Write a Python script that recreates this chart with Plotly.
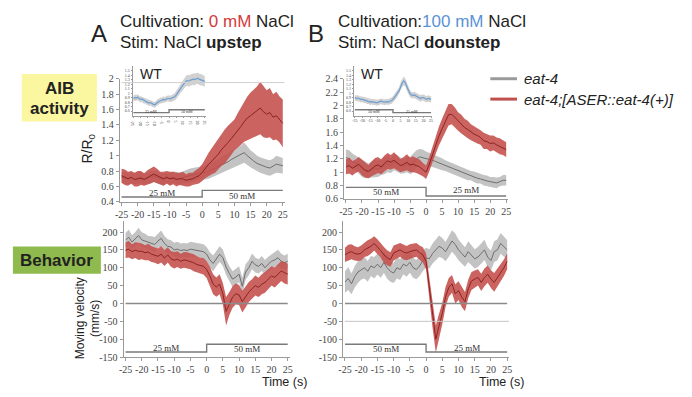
import plotly.graph_objects as go

# ---------------- data ----------------
t = list(range(-25, 26))

# Panel A top (AIB activity, R/R0), cultivation 0 mM, upstep
a_top_red = [0.74, 0.72, 0.70, 0.72, 0.69, 0.70, 0.71, 0.69, 0.72, 0.74, 0.76, 0.74, 0.71, 0.70, 0.72,
             0.70, 0.71, 0.69, 0.70, 0.70, 0.68, 0.69, 0.70, 0.72, 0.74,
             0.78, 0.84, 0.89, 0.93, 0.97, 1.02, 1.08, 1.12, 1.17, 1.22, 1.27, 1.33, 1.38, 1.44, 1.49,
             1.52, 1.55, 1.58, 1.62, 1.57, 1.54, 1.56, 1.50, 1.52, 1.47, 1.42]
a_top_red_err = [0.09, 0.10, 0.09, 0.08, 0.09, 0.10, 0.09, 0.08, 0.09, 0.10, 0.10, 0.09, 0.08, 0.09, 0.08,
                 0.09, 0.08, 0.09, 0.08, 0.09, 0.08, 0.09, 0.08, 0.09, 0.10,
                 0.11, 0.13, 0.15, 0.17, 0.19, 0.20, 0.21, 0.22, 0.22, 0.21, 0.20, 0.22, 0.24, 0.26, 0.28,
                 0.30, 0.31, 0.32, 0.34, 0.33, 0.31, 0.32, 0.30, 0.31, 0.30, 0.31]
a_top_grey = [0.72, 0.71, 0.70, 0.71, 0.70, 0.71, 0.72, 0.70, 0.71, 0.72, 0.73, 0.72, 0.70, 0.69, 0.71,
              0.70, 0.72, 0.71, 0.70, 0.72, 0.73, 0.74, 0.75, 0.76, 0.77,
              0.78, 0.78, 0.80, 0.82, 0.84, 0.85, 0.88, 0.90, 0.92, 0.95, 0.97, 0.99, 1.01, 1.04, 1.00,
              0.96, 0.93, 0.90, 0.88, 0.86, 0.85, 0.84, 0.86, 0.89, 0.88, 0.87]
a_top_grey_err = [0.07, 0.08, 0.07, 0.08, 0.07, 0.08, 0.07, 0.08, 0.07, 0.08, 0.07, 0.08, 0.07, 0.08, 0.07,
                  0.08, 0.07, 0.08, 0.08, 0.08, 0.09, 0.09, 0.09, 0.09, 0.09,
                  0.09, 0.09, 0.10, 0.10, 0.10, 0.10, 0.11, 0.11, 0.11, 0.12, 0.12, 0.12, 0.12, 0.13, 0.12,
                  0.11, 0.11, 0.10, 0.10, 0.10, 0.10, 0.10, 0.10, 0.11, 0.10, 0.10]

# Panel B top (AIB activity, R/R0), cultivation 100 mM, downstep
b_top_red = [1.08, 1.10, 1.06, 1.09, 1.12, 1.07, 1.03, 1.01, 1.05, 1.09, 1.11, 1.08, 1.13, 1.17, 1.15,
             1.18, 1.14, 1.10, 1.12, 1.15, 1.11, 1.12, 1.10, 1.08, 1.04,
             1.00, 1.12, 1.27, 1.41, 1.54, 1.65, 1.76, 1.86, 1.87, 1.82, 1.76, 1.72, 1.67, 1.64, 1.60,
             1.57, 1.55, 1.52, 1.47, 1.46, 1.43, 1.44, 1.41, 1.39, 1.37, 1.34]
b_top_red_err = [0.11, 0.12, 0.11, 0.10, 0.11, 0.12, 0.11, 0.10, 0.11, 0.12, 0.12, 0.11, 0.12, 0.12, 0.11,
                 0.12, 0.11, 0.10, 0.11, 0.12, 0.11, 0.12, 0.11, 0.11, 0.10,
                 0.10, 0.11, 0.12, 0.13, 0.14, 0.15, 0.15, 0.16, 0.15, 0.15, 0.14, 0.14, 0.13, 0.13, 0.12,
                 0.12, 0.12, 0.11, 0.12, 0.11, 0.12, 0.11, 0.11, 0.12, 0.11, 0.11]
b_top_grey = [1.22, 1.20, 1.16, 1.14, 1.10, 1.06, 1.03, 1.02, 1.04, 1.06, 1.05, 1.08, 1.10, 1.12, 1.10,
              1.15, 1.13, 1.10, 1.09, 1.12, 1.10, 1.14, 1.20, 1.23, 1.22,
              1.20, 1.19, 1.18, 1.16, 1.14, 1.12, 1.10, 1.08, 1.06, 1.04, 1.02, 1.00, 0.98, 0.96, 0.95,
              0.93, 0.91, 0.90, 0.88, 0.87, 0.86, 0.85, 0.84, 0.86, 0.88, 0.88]
b_top_grey_err = [0.12, 0.13, 0.12, 0.11, 0.12, 0.13, 0.12, 0.11, 0.12, 0.13, 0.12, 0.12, 0.13, 0.12, 0.11,
                  0.12, 0.13, 0.12, 0.11, 0.12, 0.13, 0.14, 0.13, 0.12, 0.12,
                  0.11, 0.10, 0.10, 0.09, 0.09, 0.09, 0.08, 0.08, 0.08, 0.08, 0.08, 0.07, 0.08, 0.08, 0.07,
                  0.08, 0.08, 0.07, 0.08, 0.08, 0.07, 0.08, 0.08, 0.07, 0.08, 0.08]

# Panel A bottom (moving velocity, mm/s)
a_bot_red = [149, 152, 145, 149, 146, 146, 142, 144, 138, 135, 132, 138, 127, 136, 125,
             121, 124, 118, 122, 120, 118, 114, 109, 106, 104,
             95, 77, 54, 46, 54, 27, -22, 0, 18, 27, 24, 5, 18, 32, 41,
             50, 45, 54, 59, 68, 77, 73, 82, 91, 86, 82]
a_bot_red_err = [22, 23, 21, 22, 24, 22, 21, 23, 22, 21, 22, 23, 22, 21, 22,
                 23, 22, 21, 22, 23, 22, 24, 23, 22, 23,
                 24, 26, 28, 27, 28, 30, 40, 32, 30, 29, 28, 30, 29, 28, 27,
                 28, 27, 28, 29, 28, 27, 28, 29, 28, 30, 29]
a_bot_grey = [178, 185, 172, 180, 190, 178, 175, 170, 168, 165, 175, 182, 168, 160, 158,
              150, 152, 148, 150, 148, 152, 150, 150, 148, 145,
              138, 122, 112, 125, 138, 128, 102, 84, 68, 74, 82, 48, 88, 100, 118,
              108, 104, 112, 100, 110, 118, 122, 128, 118, 114, 118]
a_bot_grey_err = [20, 21, 19, 20, 22, 21, 20, 19, 20, 21, 20, 22, 21, 20, 19,
                  20, 21, 20, 19, 20, 21, 20, 19, 20, 21,
                  20, 21, 22, 21, 22, 23, 22, 21, 22, 23, 22, 24, 22, 21, 22,
                  21, 20, 21, 22, 21, 20, 21, 22, 21, 20, 21]

# Panel B bottom (moving velocity, mm/s)
b_bot_red = [136, 142, 145, 140, 138, 141, 150, 155, 160, 168, 159, 148, 136, 128, 123,
             141, 146, 150, 144, 141, 145, 148, 150, 142, 136,
             118, 45, -36, -100, -63, -28, 18, 45, 55, 27, 36, 18, 5, 41, 63,
             68, 73, 59, 73, 82, 68, 59, 73, 86, 100, 118]
b_bot_red_err = [20, 22, 21, 20, 19, 21, 20, 22, 21, 20, 21, 20, 22, 21, 20,
                 21, 20, 19, 21, 20, 21, 20, 19, 20, 21,
                 22, 28, 32, 38, 34, 30, 28, 26, 25, 27, 26, 28, 27, 26, 25,
                 24, 23, 24, 25, 24, 25, 26, 25, 24, 23, 22]
b_bot_grey = [60, 70, 55, 75, 88, 95, 100, 90, 105, 100, 110, 100, 115, 100, 90,
              85, 100, 95, 110, 105, 115, 100, 95, 105, 120,
              128, 125, 140, 150, 160, 155, 145, 160, 175, 165, 150, 140, 130, 145, 135,
              125, 130, 140, 150, 130, 120, 145, 150, 168, 160, 150]
b_bot_grey_err = [30, 32, 29, 30, 31, 28, 30, 29, 28, 30, 29, 28, 30, 31, 29,
                  28, 30, 29, 28, 30, 29, 28, 27, 28, 29,
                  28, 27, 28, 29, 30, 28, 27, 29, 30, 31, 29, 28, 27, 29, 28,
                  27, 28, 29, 28, 27, 28, 29, 30, 29, 28, 27]

# Insets (WT)
wt_a = [0.88, 0.90, 0.89, 0.91, 0.88, 0.86, 0.87, 0.84, 0.83, 0.81, 0.80, 0.78, 0.79, 0.76, 0.75,
        0.74, 0.77, 0.80, 0.82, 0.83, 0.84, 0.86, 0.85, 0.87, 0.88,
        0.88, 0.87, 0.89, 0.90, 0.92, 0.96, 1.00, 1.05, 1.10, 1.15, 1.20, 1.24, 1.27, 1.28, 1.27,
        1.29, 1.30, 1.31, 1.30, 1.32, 1.33, 1.31, 1.30, 1.29, 1.28, 1.26]
wt_a_err = [0.06, 0.07, 0.06, 0.07, 0.06, 0.07, 0.06, 0.07, 0.06, 0.07, 0.06, 0.07, 0.06, 0.07, 0.06,
            0.07, 0.06, 0.07, 0.06, 0.07, 0.06, 0.07, 0.06, 0.07, 0.06,
            0.07, 0.07, 0.08, 0.08, 0.08, 0.09, 0.09, 0.10, 0.10, 0.11, 0.11, 0.12, 0.12, 0.12, 0.13,
            0.12, 0.13, 0.12, 0.13, 0.12, 0.13, 0.12, 0.13, 0.12, 0.12, 0.12]
wt_b = [0.90, 0.88, 0.89, 0.87, 0.86, 0.86, 0.85, 0.84, 0.83, 0.82, 0.80, 0.81, 0.80, 0.80, 0.79,
        0.79, 0.80, 0.82, 0.81, 0.80, 0.80, 0.81, 0.80, 0.82, 0.83,
        0.86, 0.90, 0.95, 1.00, 1.05, 1.15, 1.22, 1.27, 1.24, 1.15, 1.06, 1.00, 0.96, 0.95, 0.96,
        0.94, 0.92, 0.90, 0.88, 0.90, 0.90, 0.88, 0.86, 0.88, 0.87, 0.86]
wt_b_err = [0.07, 0.06, 0.07, 0.06, 0.07, 0.06, 0.07, 0.06, 0.07, 0.06, 0.07, 0.06, 0.07, 0.06, 0.07,
            0.06, 0.07, 0.06, 0.07, 0.06, 0.07, 0.06, 0.07, 0.06, 0.07,
            0.07, 0.07, 0.08, 0.08, 0.08, 0.09, 0.09, 0.10, 0.09, 0.09, 0.08, 0.08, 0.07, 0.07, 0.07,
            0.07, 0.07, 0.07, 0.07, 0.07, 0.07, 0.07, 0.07, 0.07, 0.07, 0.07]

x_ticks = [-25, -20, -15, -10, -5, 0, 5, 10, 15, 20, 25]
x_ticktext = ["-25", "-20", "-15", "-10", "-5", "0", "5", "10", "15", "20", "25"]
a_top_yticks = [0.4, 0.6, 0.8, 1.0, 1.2, 1.4, 1.6, 1.8, 2.0]
a_top_yticktext = ["0.4", "0.6", "0.8", "1", "1.2", "1.4", "1.6", "1.8", "2"]
b_top_yticks = [0.6, 0.8, 1.0, 1.2, 1.4, 1.6, 1.8, 2.0, 2.2, 2.4]
b_top_yticktext = ["0.6", "0.8", "1", "1.2", "1.4", "1.6", "1.8", "2", "2.2", "2.4"]
bot_yticks = [-150, -100, -50, 0, 50, 100, 150, 200]
bot_yticktext = ["-150", "-100", "-50", "0", "50", "100", "150", "200"]
inset_yticks = [0.6, 0.7, 0.8, 0.9, 1.0, 1.1, 1.2, 1.3, 1.4, 1.5]
inset_yticktext = ["0.6", "0.7", "0.8", "0.9", "1", "1.1", "1.2", "1.3", "1.4", "1.5"]

# ---------------- styling helpers ----------------
W, H = 692, 397
def px(x): return x / W
def py(y): return 1 - y / H

RED_FILL = "rgba(196,78,74,0.88)"
RED_LINE = "#8a2424"
GREY_FILL = "rgba(178,178,178,0.78)"
GREY_LINE = "#6e6e6e"
BLUE_LINE = "#6d9fd2"
SERIF = "Liberation Serif, DejaVu Serif, serif"
SANS = "Liberation Sans, Arial, sans-serif"

fig = go.Figure()

def band(xa, ya, mean, err, fill, line, lw=1.0):
    up = [m + e for m, e in zip(mean, err)]
    lo = [m - e for m, e in zip(mean, err)]
    fig.add_trace(go.Scatter(x=t + t[::-1], y=up + lo[::-1], fill="toself", fillcolor=fill,
                             line=dict(width=0), mode="lines", hoverinfo="skip", showlegend=False,
                             xaxis=xa, yaxis=ya))
    fig.add_trace(go.Scatter(x=t, y=mean, mode="lines", line=dict(color=line, width=lw),
                             hoverinfo="skip", showlegend=False, xaxis=xa, yaxis=ya))

band("x", "y", a_top_grey, a_top_grey_err, GREY_FILL, GREY_LINE)
band("x", "y", a_top_red, a_top_red_err, RED_FILL, RED_LINE)
band("x2", "y2", b_top_grey, b_top_grey_err, GREY_FILL, GREY_LINE)
band("x2", "y2", b_top_red, b_top_red_err, RED_FILL, RED_LINE)
band("x3", "y3", a_bot_grey, a_bot_grey_err, GREY_FILL, GREY_LINE)
band("x3", "y3", a_bot_red, a_bot_red_err, RED_FILL, RED_LINE)
band("x4", "y4", b_bot_grey, b_bot_grey_err, GREY_FILL, GREY_LINE)
band("x4", "y4", b_bot_red, b_bot_red_err, RED_FILL, RED_LINE)
band("x5", "y5", wt_a, wt_a_err, "rgba(190,190,190,0.7)", BLUE_LINE, 1.2)
band("x6", "y6", wt_b, wt_b_err, "rgba(190,190,190,0.7)", BLUE_LINE, 1.2)

def xax(domain, anchor, size=10, ticklen=3):
    return dict(domain=domain, anchor=anchor, range=[-25.6, 25.6], tickvals=x_ticks, ticktext=x_ticktext,
                showline=True, linecolor="#9a9a9a", linewidth=1, ticks="outside", ticklen=ticklen,
                tickcolor="#9a9a9a", showgrid=False, zeroline=False,
                tickfont=dict(family=SERIF, size=size, color="#444"), fixedrange=True)

def yax(domain, anchor, rng, vals, text, size=10, ticklen=3):
    return dict(domain=domain, anchor=anchor, range=rng, tickvals=vals, ticktext=text,
                showline=True, linecolor="#9a9a9a", linewidth=1, ticks="outside", ticklen=ticklen,
                tickcolor="#9a9a9a", showgrid=False, zeroline=False,
                tickfont=dict(family=SERIF, size=size, color="#444"), fixedrange=True)

fig.update_layout(
    width=W, height=H, margin=dict(l=0, r=0, t=0, b=0),
    paper_bgcolor="white", plot_bgcolor="rgba(0,0,0,0)", showlegend=False,
    xaxis=xax([px(116), px(283)], "y"),
    yaxis=yax([py(202), py(75)], "x", [0.4, 2.0], a_top_yticks, a_top_yticktext),
    xaxis2=xax([px(343), px(509)], "y2"),
    yaxis2=yax([py(199), py(75)], "x2", [0.6, 2.4], b_top_yticks, b_top_yticktext),
    xaxis3=xax([px(120), px(288)], "y3"),
    yaxis3=yax([py(362), py(222)], "x3", [-150, 230], bot_yticks, bot_yticktext),
    xaxis4=xax([px(342), px(510)], "y4"),
    yaxis4=yax([py(362), py(222)], "x4", [-150, 230], bot_yticks, bot_yticktext),
    xaxis5=xax([px(129), px(203)], "y5", size=4, ticklen=1),
    yaxis5=yax([py(113), py(62)], "x5", [0.5, 1.6], inset_yticks, inset_yticktext, size=4, ticklen=1),
    xaxis6=xax([px(353), px(432)], "y6", size=4, ticklen=1),
    yaxis6=yax([py(113), py(62)], "x6", [0.5, 1.6], inset_yticks, inset_yticktext, size=4, ticklen=1),
)

shapes = []
annotations = []

def stim(xref, yref, first, y_low, y_high, txt_first, txt_second, y_txt_first, y_txt_second, size=9):
    y1 = y_low if first == "low" else y_high
    y2 = y_high if first == "low" else y_low
    shapes.append(dict(type="path", xref=xref, yref=yref,
                       path=f"M -25,{y1} L 0,{y1} L 0,{y2} L 25,{y2}",
                       line=dict(color="#7a7a7a", width=1.4)))
    annotations.append(dict(x=-12.5, y=y_txt_first, xref=xref, yref=yref, text=txt_first, showarrow=False,
                            font=dict(family=SERIF, size=size, color="#333")))
    annotations.append(dict(x=12.5, y=y_txt_second, xref=xref, yref=yref, text=txt_second, showarrow=False,
                            font=dict(family=SERIF, size=size, color="#333")))

stim("x", "y", "low", 0.463, 0.55, "25 mM", "50 mM", 0.52, 0.475)
stim("x2", "y2", "high", 0.645, 0.774, "50 mM", "25 mM", 0.705, 0.73)
stim("x3", "y3", "low", -136, -114, "25 mM", "50 mM", -124, -128)
stim("x4", "y4", "high", -136, -114, "50 mM", "25 mM", -128, -124)
stim("x5", "y5", "low", 0.565, 0.63, "25 mM", "50 mM", 0.6, 0.59, size=4)
stim("x6", "y6", "high", 0.565, 0.63, "50 mM", "25 mM", 0.59, 0.6, size=4)

# reference lines
shapes.append(dict(type="line", xref="x3", yref="y3", x0=-25, x1=25, y0=0, y1=0,
                   line=dict(color="#8a8a8a", width=1.4)))
shapes.append(dict(type="line", xref="x4", yref="y4", x0=-25, x1=25, y0=0, y1=0,
                   line=dict(color="#8a8a8a", width=1.4)))
shapes.append(dict(type="line", xref="x4", yref="y4", x0=-25, x1=25.6, y0=-50, y1=-50,
                   line=dict(color="#c4c4c4", width=1)))
shapes.append(dict(type="line", xref="x", yref="y", x0=-25, x1=25.6, y0=1.95, y1=1.95,
                   line=dict(color="#d0d0d0", width=1)))

# label boxes
shapes.append(dict(type="rect", xref="paper", yref="paper", x0=px(17), x1=px(93), y0=py(119), y1=py(70),
                   fillcolor="#fbf7a0", line=dict(width=0), layer="below"))
shapes.append(dict(type="rect", xref="paper", yref="paper", x0=px(8), x1=px(97), y0=py(276), y1=py(248),
                   fillcolor="#8fba4e", line=dict(width=0), layer="below"))

# legend lines
shapes.append(dict(type="line", xref="paper", yref="paper", x0=px(491), x1=px(518), y0=py(75), y1=py(75),
                   line=dict(color="#9a9a9a", width=3)))
shapes.append(dict(type="line", xref="paper", yref="paper", x0=px(491), x1=px(518), y0=py(96), y1=py(96),
                   line=dict(color="#c0504d", width=3)))

def pa(x, y, text, size, xanchor="left", color="#222", family=SANS, angle=0, yanchor="middle"):
    annotations.append(dict(x=px(x), y=py(y), xref="paper", yref="paper", text=text, showarrow=False,
                            xanchor=xanchor, yanchor=yanchor, textangle=angle,
                            font=dict(family=family, size=size, color=color)))

pa(95, 28, "A", 24, xanchor="center")
pa(114, 16, "Cultivation: <span style='color:#d23a3a'>0 mM</span> NaCl", 17)
pa(114, 38, "Stim: NaCl <b>upstep</b>", 17)
pa(315, 28, "B", 24, xanchor="center")
pa(335, 16, "Cultivation:<span style='color:#5b93d6'>100 mM</span> NaCl", 17)
pa(335, 38, "Stim: NaCl <b>dounstep</b>", 17)
pa(523, 75, "<i>eat-4</i>", 15)
pa(523, 96, "<i>eat-4;[ASER::eat-4(+)]</i>", 15)
pa(55, 85, "<b>AIB</b>", 17, xanchor="center")
pa(55, 106, "<b>activity</b>", 17, xanchor="center")
pa(52, 262, "<b>Behavior</b>", 17, xanchor="center")
pa(84, 147, "R/R<sub>0</sub>", 14, xanchor="center", angle=-90)
pa(84, 322, "Moving velocity<br>(mm/s)", 12, xanchor="center", angle=-90)
pa(283, 388, "Time (s)", 12.5, xanchor="center")
pa(502, 388, "Time (s)", 12.5, xanchor="center")
pa(148, 70, "WT", 14, xanchor="center")
pa(371, 70, "WT", 14, xanchor="center")

fig.update_layout(shapes=shapes, annotations=annotations)
fig.write_html(
    "out.html",
    config={"displayModeBar": False},
    post_script="document.body.style.margin='0';document.body.style.padding='0';"
                "document.documentElement.style.overflow='hidden';document.body.style.overflow='hidden';",
)
